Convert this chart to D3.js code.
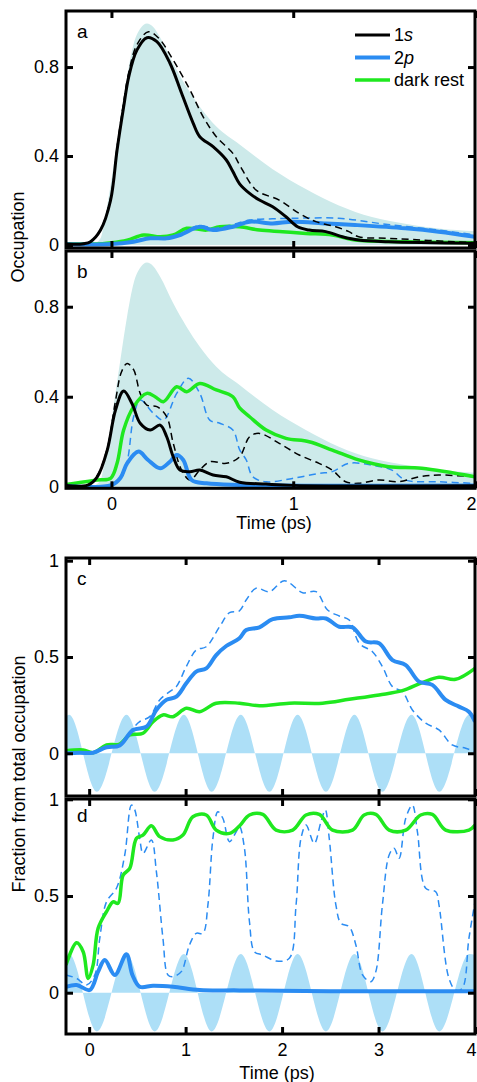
<!DOCTYPE html>
<html>
<head>
<meta charset="utf-8">
<script src="https://cdn.jsdelivr.net/npm/d3@7"></script>
<style>
  body { margin: 0; background: #fff; }
  svg { display: block; font-family: "Liberation Sans", Arial, Helvetica, sans-serif; }
</style>
</head>
<body>
<svg id="chart" width="477" height="1082"></svg>
<script>
// ---------- data: [time (ps), occupation] ----------
// excitation pulse envelope (shaded, panels a and b)
const pulse = [[-0.25,0],[-0.1,0.005],[-0.06,0.03],[-0.033,0.133],[-0.005,0.267],[0.022,0.415],[0.049,0.563],[0.086,0.756],[0.122,0.904],[0.16,0.975],[0.195,0.996],[0.23,0.98],[0.268,0.933],[0.34,0.815],[0.413,0.711],[0.486,0.622],[0.577,0.533],[0.705,0.452],[0.887,0.341],[1.069,0.252],[1.251,0.178],[1.433,0.126],[1.616,0.096],[1.8,0.074],[2.0,0.062]];

// panel a
const a1s = [[-0.25,0.004],[-0.15,0.006],[-0.115,0.015],[-0.06,0.067],[-0.005,0.2],[0.031,0.427],[0.067,0.62],[0.095,0.756],[0.14,0.876],[0.195,0.932],[0.25,0.914],[0.322,0.817],[0.386,0.682],[0.45,0.547],[0.486,0.487],[0.559,0.442],[0.632,0.382],[0.668,0.33],[0.705,0.275],[0.76,0.232],[0.814,0.202],[0.887,0.172],[0.96,0.127],[1.024,0.082],[1.087,0.067],[1.179,0.06],[1.27,0.037],[1.36,0.022],[1.525,0.015],[2.0,0.008]];
const a1sDash = [[-0.25,0.004],[-0.115,0.016],[-0.06,0.07],[-0.005,0.21],[0.031,0.44],[0.067,0.64],[0.095,0.775],[0.14,0.9],[0.204,0.959],[0.26,0.93],[0.34,0.831],[0.432,0.697],[0.504,0.577],[0.577,0.487],[0.668,0.412],[0.705,0.36],[0.796,0.247],[0.923,0.202],[1.033,0.142],[1.124,0.105],[1.233,0.082],[1.306,0.06],[1.36,0.037],[1.525,0.03],[2.0,0.01]];
const a2p = [[-0.25,0.003],[0.0,0.004],[0.122,0.015],[0.213,0.03],[0.304,0.03],[0.377,0.045],[0.486,0.082],[0.559,0.067],[0.668,0.082],[0.76,0.105],[0.887,0.097],[0.996,0.105],[1.18,0.097],[1.34,0.09],[1.616,0.075],[1.8,0.06],[2.0,0.037]];
const a2pDash = [[-0.25,0.003],[0.0,0.004],[0.122,0.016],[0.213,0.032],[0.304,0.033],[0.377,0.05],[0.486,0.088],[0.559,0.075],[0.668,0.092],[0.76,0.112],[0.887,0.118],[1.0,0.12],[1.25,0.12],[1.52,0.092],[1.8,0.067],[2.0,0.045]];
const aDark = [[-0.25,0.004],[-0.05,0.006],[0.0,0.01],[0.086,0.022],[0.177,0.045],[0.268,0.037],[0.34,0.045],[0.414,0.075],[0.523,0.067],[0.596,0.082],[0.705,0.082],[0.814,0.067],[0.942,0.06],[1.07,0.052],[1.215,0.045],[1.34,0.022],[1.616,0.015],[2.0,0.01]];

// panel b
const b1s = [[-0.25,0.005],[-0.13,0.007],[-0.078,0.044],[-0.023,0.163],[0.022,0.34],[0.067,0.425],[0.113,0.37],[0.158,0.282],[0.213,0.252],[0.268,0.274],[0.304,0.222],[0.34,0.133],[0.377,0.074],[0.432,0.067],[0.486,0.074],[0.559,0.052],[0.632,0.044],[0.705,0.02],[0.85,0.012],[1.0,0.006],[2.0,0.004]];
const b1sDash = [[-0.25,0.005],[-0.13,0.008],[-0.078,0.05],[-0.023,0.17],[0.022,0.38],[0.055,0.51],[0.086,0.548],[0.122,0.52],[0.158,0.415],[0.195,0.363],[0.25,0.356],[0.304,0.311],[0.34,0.193],[0.386,0.074],[0.432,0.03],[0.486,0.074],[0.541,0.111],[0.632,0.104],[0.705,0.133],[0.76,0.222],[0.814,0.237],[0.923,0.193],[1.033,0.141],[1.142,0.104],[1.215,0.074],[1.288,0.022],[1.36,0.015],[1.47,0.03],[1.58,0.022],[1.69,0.044],[1.8,0.052],[2.0,0.044]];
const b2p = [[-0.25,0.003],[0.0,0.007],[0.05,0.04],[0.086,0.104],[0.149,0.156],[0.2,0.12],[0.268,0.082],[0.32,0.11],[0.359,0.141],[0.395,0.119],[0.441,0.03],[0.523,0.015],[0.705,0.008],[2.0,0.005]];
const b2pDash = [[-0.25,0.003],[0.0,0.007],[0.05,0.04],[0.086,0.11],[0.122,0.311],[0.158,0.385],[0.231,0.326],[0.286,0.296],[0.359,0.415],[0.423,0.482],[0.486,0.415],[0.541,0.296],[0.596,0.282],[0.668,0.252],[0.705,0.165],[0.741,0.12],[0.778,0.044],[0.851,0.022],[0.996,0.037],[1.142,0.059],[1.215,0.067],[1.306,0.104],[1.433,0.096],[1.543,0.074],[1.616,0.03],[1.8,0.022],[2.0,0.015]];
const bDark = [[-0.25,0.01],[-0.078,0.03],[-0.005,0.037],[0.031,0.104],[0.067,0.252],[0.122,0.356],[0.195,0.415],[0.24,0.4],[0.286,0.378],[0.359,0.444],[0.414,0.422],[0.486,0.459],[0.577,0.43],[0.668,0.4],[0.705,0.35],[0.76,0.311],[0.851,0.252],[0.96,0.215],[1.087,0.2],[1.215,0.163],[1.36,0.119],[1.525,0.089],[1.707,0.082],[2.0,0.044]];

// driving field (shaded oscillation, panels c and d): extrema
const fieldT = [-0.24,-0.208,0.08,0.387,0.68,0.982,1.27,1.572,1.869,2.161,2.455,2.75,3.04,3.342,3.63,3.94,4.0];
const fieldV = [0.19,0.2,-0.2,0.2,-0.2,0.2,-0.2,0.2,-0.2,0.2,-0.2,0.2,-0.2,0.2,-0.2,0.2,0.195];

// panel c
const c2p = [[-0.24,0.0],[-0.1,0.002],[0.04,0.003],[0.18,0.031],[0.317,0.04],[0.455,0.121],[0.594,0.138],[0.697,0.225],[0.8,0.277],[0.904,0.294],[1.007,0.363],[1.11,0.424],[1.214,0.441],[1.317,0.51],[1.421,0.557],[1.558,0.597],[1.628,0.64],[1.765,0.654],[1.903,0.696],[2.075,0.706],[2.179,0.714],[2.351,0.7],[2.455,0.7],[2.593,0.657],[2.73,0.654],[2.869,0.58],[3.006,0.571],[3.144,0.484],[3.282,0.458],[3.42,0.372],[3.557,0.355],[3.696,0.277],[3.834,0.242],[3.937,0.216],[4.0,0.164]];
const c2pDash = [[-0.24,0.0],[0.04,0.003],[0.18,0.033],[0.317,0.042],[0.455,0.13],[0.524,0.164],[0.628,0.19],[0.731,0.277],[0.835,0.32],[0.904,0.346],[1.007,0.45],[1.11,0.536],[1.214,0.553],[1.352,0.657],[1.455,0.73],[1.558,0.74],[1.628,0.796],[1.731,0.857],[1.869,0.839],[2.024,0.896],[2.213,0.834],[2.352,0.839],[2.472,0.744],[2.593,0.713],[2.696,0.692],[2.8,0.571],[2.937,0.527],[3.04,0.45],[3.144,0.346],[3.247,0.32],[3.351,0.225],[3.489,0.156],[3.627,0.121],[3.764,0.043],[3.903,0.026],[4.0,0.008]];
const cDark = [[-0.24,0.013],[-0.062,0.017],[0.04,0.003],[0.18,0.043],[0.317,0.048],[0.421,0.095],[0.558,0.104],[0.662,0.164],[0.765,0.199],[0.869,0.19],[1.007,0.234],[1.145,0.216],[1.317,0.26],[1.558,0.26],[1.765,0.247],[2.075,0.26],[2.42,0.26],[2.696,0.28],[3.006,0.303],[3.247,0.325],[3.454,0.367],[3.627,0.395],[3.799,0.384],[4.0,0.441]];

// panel d
const d2p = [[-0.24,0.031],[-0.13,0.04],[0.007,0.014],[0.093,0.109],[0.162,0.169],[0.266,0.092],[0.386,0.199],[0.45,0.09],[0.524,0.031],[0.662,0.036],[0.869,0.031],[1.145,0.014],[1.558,0.012],[2.5,0.008],[4.0,0.007]];
const d2pDash = [[-0.24,0.092],[-0.13,0.074],[-0.027,0.04],[0.059,0.092],[0.11,0.281],[0.18,0.47],[0.283,0.54],[0.369,0.712],[0.438,0.97],[0.47,0.95],[0.524,0.798],[0.559,0.72],[0.645,0.79],[0.697,0.626],[0.765,0.281],[0.817,0.092],[0.869,0.083],[0.955,0.109],[1.04,0.247],[1.11,0.307],[1.179,0.307],[1.231,0.453],[1.283,0.798],[1.334,0.936],[1.386,0.902],[1.455,0.781],[1.524,0.832],[1.558,0.86],[1.61,0.747],[1.662,0.367],[1.714,0.212],[1.8,0.195],[1.938,0.164],[2.075,0.178],[2.145,0.453],[2.196,0.798],[2.248,0.867],[2.334,0.772],[2.403,0.884],[2.448,0.945],[2.489,0.798],[2.558,0.453],[2.61,0.359],[2.696,0.341],[2.765,0.247],[2.834,0.092],[2.92,0.057],[2.972,0.109],[3.04,0.453],[3.11,0.712],[3.161,0.747],[3.213,0.695],[3.282,0.902],[3.351,0.97],[3.403,0.832],[3.489,0.54],[3.593,0.522],[3.627,0.453],[3.73,0.074],[3.8,0.014],[3.868,0.023],[3.937,0.281],[4.0,0.47]];
const dDark = [[-0.24,0.143],[-0.13,0.258],[-0.062,0.212],[-0.01,0.074],[0.041,0.143],[0.093,0.333],[0.18,0.419],[0.248,0.47],[0.3,0.462],[0.352,0.608],[0.421,0.643],[0.49,0.798],[0.558,0.815],[0.645,0.863],[0.731,0.807],[0.869,0.79],[0.972,0.815],[1.075,0.91],[1.214,0.919],[1.317,0.841],[1.455,0.824],[1.558,0.862],[1.662,0.919],[1.8,0.922],[1.938,0.841],[2.11,0.841],[2.248,0.919],[2.386,0.922],[2.523,0.841],[2.73,0.841],[2.851,0.919],[2.972,0.922],[3.11,0.841],[3.282,0.841],[3.437,0.919],[3.558,0.922],[3.696,0.841],[3.937,0.841],[4.0,0.867]];

// ticks and labels
const ticksAB = [0, 0.4, 0.8];
const ticksCD = [0, 0.5, 1];
const timeTicksAB = [0, 1, 2];
const timeTicksCD = [0, 1, 2, 3, 4];
const legendItems = [["1", "s"], ["2", "p"], ["dark rest", ""]];

// ---------- styling ----------
const BLACK = "#000", BLUE = "#2b8cf2", GREEN = "#1fe81f";
const PULSE_FILL = "#cdeaea", FIELD_FILL = "#addff7";
const FONT = 18;

const svg = d3.select("#chart");
const X0 = 66, X1 = 475;
const xAB = d3.scaleLinear().domain([-0.25, 2]).range([X0, X1]);
const xCD = d3.scaleLinear().domain([-0.24, 4]).range([X0, X1]);
const smooth = d3.curveCatmullRom.alpha(0.5);

let clipId = 0;
function panel(o) {
  const y = d3.scaleLinear().domain(o.yDomain).range([o.bottom, o.top]);
  const x = o.x;
  const g = svg.append("g");
  const id = "clip" + (clipId++);
  g.append("clipPath").attr("id", id).append("rect")
    .attr("x", X0).attr("y", o.top).attr("width", X1 - X0).attr("height", o.bottom - o.top);
  const plot = g.append("g").attr("clip-path", `url(#${id})`);

  o.draw(plot, x, y);

  // axes with inward ticks on all four sides
  const tl = 7;
  const styleAxis = sel => {
    sel.select(".domain").remove();
    sel.selectAll(".tick line").attr("stroke", BLACK).attr("stroke-width", 3);
    sel.selectAll(".tick text").attr("fill", BLACK).style("font-size", FONT + "px")
      .style("font-family", '"Liberation Sans", Arial, Helvetica, sans-serif');
  };
  g.append("g").attr("transform", `translate(${X0},0)`)
    .call(d3.axisLeft(y).tickValues(o.yTicks).tickSize(-tl).tickPadding(7).tickFormat(d3.format("~g")))
    .call(styleAxis);
  g.append("g").attr("transform", `translate(${X1},0)`)
    .call(d3.axisRight(y).tickValues(o.yTicks).tickSize(-tl).tickFormat(""))
    .call(styleAxis);
  g.append("g").attr("transform", `translate(0,${o.top})`)
    .call(d3.axisTop(x).tickValues(o.xTicks).tickSize(-tl).tickFormat(""))
    .call(styleAxis);
  const bx = g.append("g").attr("transform", `translate(0,${o.bottom})`)
    .call(d3.axisBottom(x).tickValues(o.xTicks).tickSize(-tl).tickPadding(9)
      .tickFormat(o.xLabels ? d3.format("~g") : ""))
    .call(styleAxis);
  // keep the label of the tick on the right edge inside the page
  bx.selectAll(".tick text").filter(d => d === o.xTicks[o.xTicks.length - 1]).attr("dx", -4);

  g.append("rect").attr("x", X0).attr("y", o.top)
    .attr("width", X1 - X0).attr("height", o.bottom - o.top)
    .attr("fill", "none").attr("stroke", BLACK).attr("stroke-width", 3);

  g.append("text").attr("x", X0 + 11).attr("y", o.top + o.letterDy)
    .style("font-size", (FONT + 1) + "px").text(o.letter);
  return { g, x, y };
}

function line(plot, x, y, data, color, width, dash) {
  plot.append("path").datum(data)
    .attr("fill", "none").attr("stroke", color).attr("stroke-width", width)
    .attr("stroke-linejoin", "round").attr("stroke-linecap", "butt")
    .attr("stroke-dasharray", dash || null)
    .attr("d", d3.line().x(d => x(d[0])).y(d => y(d[1])).curve(smooth));
}

function pulseArea(plot, x, y) {
  plot.append("path").datum(pulse).attr("fill", PULSE_FILL)
    .attr("d", d3.area().x(d => x(d[0])).y0(y(0)).y1(d => y(d[1])).curve(d3.curveMonotoneX));
}

function fieldArea(plot, x, y) {
  const pts = fieldT.map((t, i) => [t, fieldV[i]]);
  plot.append("path").datum(pts).attr("fill", FIELD_FILL)
    .attr("d", d3.area().x(d => x(d[0])).y0(y(0)).y1(d => y(d[1])).curve(d3.curveMonotoneX));
}

const DASH = "7,4.5";

// (a)
const pa = panel({
  x: xAB, yDomain: [-0.0135, 1.052], top: 11, bottom: 248,
  yTicks: ticksAB, xTicks: timeTicksAB, xLabels: false, letter: "a", letterDy: 27,
  draw: (p, x, y) => {
    pulseArea(p, x, y);
    line(p, x, y, aDark, GREEN, 3.5);
    line(p, x, y, a2pDash, BLUE, 1.5, DASH);
    line(p, x, y, a2p, BLUE, 4);
    line(p, x, y, a1sDash, BLACK, 1.5, DASH);
    line(p, x, y, a1s, BLACK, 3);
  }
});

// legend
const lg = pa.g.append("g");
const legendColors = [BLACK, BLUE, GREEN];
const legendWidths = [3, 4, 3.5];
legendItems.forEach((item, i) => {
  const ly = 35 + i * 22.5;
  lg.append("line").attr("x1", 355).attr("x2", 390).attr("y1", ly).attr("y2", ly)
    .attr("stroke", legendColors[i]).attr("stroke-width", legendWidths[i]);
  const t = lg.append("text").attr("x", 394).attr("y", ly).attr("dy", "0.36em")
    .style("font-size", FONT + "px");
  t.append("tspan").text(item[0]);
  if (item[1]) t.append("tspan").style("font-style", "italic").text(item[1]);
});

// (b)
panel({
  x: xAB, yDomain: [-0.007, 1.0476], top: 251, bottom: 488.3,
  yTicks: ticksAB, xTicks: timeTicksAB, xLabels: true, letter: "b", letterDy: 27,
  draw: (p, x, y) => {
    pulseArea(p, x, y);
    line(p, x, y, b2pDash, BLUE, 1.5, DASH);
    line(p, x, y, b1sDash, BLACK, 1.5, DASH);
    line(p, x, y, bDark, GREEN, 3.5);
    line(p, x, y, b2p, BLUE, 4);
    line(p, x, y, b1s, BLACK, 3);
  }
});

// (c)
panel({
  x: xCD, yDomain: [-0.222, 1.014], top: 558, bottom: 796,
  yTicks: ticksCD, xTicks: timeTicksCD, xLabels: false, letter: "c", letterDy: 27,
  draw: (p, x, y) => {
    fieldArea(p, x, y);
    line(p, x, y, c2pDash, BLUE, 1.5, DASH);
    line(p, x, y, cDark, GREEN, 3.5);
    line(p, x, y, c2p, BLUE, 4);
  }
});

// (d)
panel({
  x: xCD, yDomain: [-0.2135, 1.0016], top: 799, bottom: 1034,
  yTicks: ticksCD, xTicks: timeTicksCD, xLabels: true, letter: "d", letterDy: 23,
  draw: (p, x, y) => {
    fieldArea(p, x, y);
    line(p, x, y, d2pDash, BLUE, 1.5, DASH);
    line(p, x, y, d2p, BLUE, 4);
    line(p, x, y, dDark, GREEN, 3.5);
  }
});

// axis titles
svg.append("text").attr("transform", "translate(24,237) rotate(-90)")
  .attr("text-anchor", "middle").style("font-size", FONT + "px").text("Occupation");
svg.append("text").attr("transform", "translate(25,774) rotate(-90)")
  .attr("text-anchor", "middle").style("font-size", FONT + "px").text("Fraction from total occupation");
svg.append("text").attr("x", 274).attr("y", 529)
  .attr("text-anchor", "middle").style("font-size", FONT + "px").text("Time (ps)");
svg.append("text").attr("x", 277).attr("y", 1079)
  .attr("text-anchor", "middle").style("font-size", FONT + "px").text("Time (ps)");
</script>
</body>
</html>
